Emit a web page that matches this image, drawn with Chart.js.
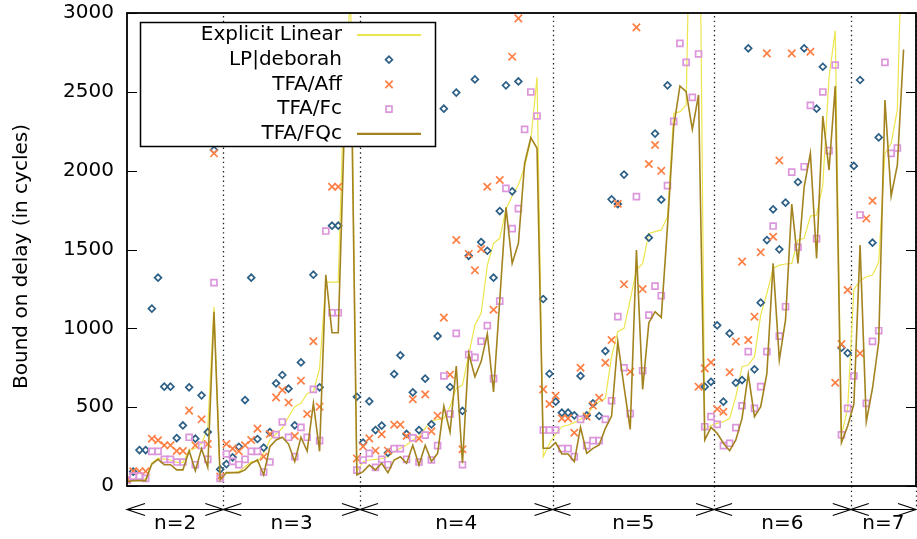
<!DOCTYPE html>
<html>
<head>
<meta charset="utf-8">
<script src="https://cdn.jsdelivr.net/npm/chart.js@4"></script>
<style>
html, body { margin: 0; padding: 0; background: #fff; }
</style>
</head>
<body>
<canvas id="delay_chart" width="917" height="539"></canvas>
<script>
// one value per benchmark instance, grouped by n (see groupBounds)
var explicitLinear = [
    30, 40, 40, 45, 145, 175, 170, 165, 150, 150, 224, 239, 270, 366, 1137, 50,
    80, 85, 91, 122, 154, 154, 207, 292, 330, 366, 439, 503, 524, 587, 598, 746, 1293, 1293, 1293, 2600, 3100, 91,
    154, 165, 169, 173, 186, 218, 239, 260, 292, 313, 366, 414, 423, 429, 503, 619, 640, 831, 1021, 1095, 1400, 1539, 1571, 1755, 1839, 1909, 2025, 2194, 2592, 186, 270,
    330, 376, 387, 402, 423, 450, 503, 535, 556, 820, 979, 1000, 1180, 1370, 1412, 1602, 1613, 1624, 1708, 2363, 2374, 2416, 4500, 4500, 355, 383,
    397, 408, 429, 567, 757, 767, 820, 1084, 1222, 1380, 1401, 1408, 1412, 1560, 1571, 1712, 1719, 1909, 2592, 2888, 323, 492,
    1247, 1302, 1327, 1338, 1420, 2110, 2173, 2385, 3900, null
];
var lpDeborah = [
    40, 91, 228, 228, 1125, 1321, 630, 630, 304, 384, 626, 300, 575, 342, 2131, 105,
    139, 182, 249, 545, 1321, 298, 243, 342, 651, 704, 617, 385, 784, null, 1340, 626, null, 1651, 1651, null, null, 566,
    275, 537, 355, 383, 211, 710, 829, 330, 594, 355, 681, 391, 951, 2393, 628, 2495, 476, 1460, 2579, 1547, 1492, 1321, 1744, 2541, 1869, 2566, null, null, null, 1186, 712,
    535, 465, 465, 448, 698, 448, 524, 444, 856, 1818, 1788, 1975, null, null, null, 1575, 2235, 1816, 2541, null, null, null, null, null, 630, 661,
    1019, 535, 968, 655, 672, 2776, 740, 1163, 1560, 1755, 1501, 1797, null, 1928, 2776, null, 2393, 2659, null, null, 877, 843,
    2030, 2575, null, 1543, 2211, null, null, null, null, null
];
var tfaAff = [
    38, 93, 93, 93, 300, 290, 258, 258, 222, 222, 478, 258, 423, 266, 2110, 60,
    266, 237, 220, 258, 292, 364, 186, 330, 562, 609, 529, 317, 668, 457, 918, 503, null, 1898, 1898, null, null, 175,
    250, 302, 224, 328, 224, 389, 389, 317, 550, 300, 581, 347, 446, 1068, 706, 1560, 233, 1472, 1368, 1503, 1898, 1118, 1941, null, 2723, 2966, null, null, null, 613, 520,
    573, 429, 429, 338, 750, 440, 510, 560, 782, 926, 1790, 1279, 725, 2909, 1249, 2042, 2163, 1999, null, null, null, null, null, 630, 746,
    784, 488, 471, 721, 917, 1423, 926, 1074, 1482, 2744, 1581, 2065, null, 2744, null, null, 2754, null, null, null, 655, 900,
    1243, null, 841, 1697, 1809, null, null, null, null, null
];
var tfaFc = [
    38, 63, 63, 48, 220, 220, 169, 169, 152, 152, 309, 135, 258, 169, 1290, 48,
    203, 156, 135, 169, 220, 220, 89, 152, 326, 406, 309, 186, 372, 309, 613, 288, 1617, 1099, 1099, null, null, 101,
    165, 207, 118, 169, 135, 237, 237, 169, 305, 152, 323, 165, 256, 698, 457, 968, 135, 833, 816, 918, 1017, 681, 1173, 1888, 1632, 1759, 2262, 2499, 2347, 355, 355,
    355, 237, 237, 186, 423, 256, 288, 288, 423, 541, 1074, 750, 459, 1835, 731, 1084, 1268, 1207, 1905, 2313, 2807, 2687, 2465, 2740, 376, 440,
    391, 256, 271, 370, 509, 852, 492, 630, 852, 1649, 951, 1137, 1991, 1514, 2025, 2414, 1569, 2499, 2127, 2670, 325, 492,
    698, 1719, 524, 917, 985, 2687, 2110, 2144, null, null
];
var tfaFQc = [
    27, 34, 34, 34, 139, 169, 135, 135, 102, 102, 224, 97, 237, 118, 1105, 38,
    85, 85, 85, 102, 144, 165, 70, 250, 292, 309, 266, 156, 309, 222, 524, 220, 1340, 972, 972, 2300, 2900, 70,
    91, 133, 102, 144, 85, 165, 186, 144, 258, 133, 258, 156, 207, 507, 342, 761, 144, 841, 693, 789, 964, 596, 1180, 1767, 1412, 1539, 2046, 2209, 2142, 239, 239,
    275, 203, 203, 154, 372, 207, 239, 260, 366, 444, 915, 630, 359, 1497, 613, 1036, 1105, 1069, 1650, 2280, 2537, 2501, 2262, 2480, 292, 372,
    334, 271, 224, 292, 429, 710, 440, 503, 714, 1412, 799, 1053, 1788, 1412, 1898, 2110, 1444, 2347, 2004, 2537, 275, 380,
    520, 1528, 408, 620, 915, 2448, 1839, 2036, 2769, null
];

var groupLabels = ['n=2', 'n=3', 'n=4', 'n=5', 'n=6', 'n=7'];
var groupBounds = [0, 15.5, 37.5, 68.5, 94.5, 116.5, 127];
var yTicks = [0, 500, 1000, 1500, 2000, 2500, 3000];
var yTitle = 'Bound on delay (in cycles)';

var FONT = 'DejaVu Sans';

function points(arr) {
    return arr.map(function (v, i) { return {x: i, y: v}; });
}

var seriesStyle = [
    {label: 'Explicit Linear', data: explicitLinear, color: '#ede54e', line: 1.2, order: 5},
    {label: 'LP|deborah', data: lpDeborah, color: '#2c5f86', style: 'rectRot', radius: 3.4, order: 4},
    {label: 'TFA/Aff', data: tfaAff, color: '#ff7f45', style: 'crossRot', radius: 5.2, order: 3},
    {label: 'TFA/Fc', data: tfaFc, color: '#dc96dc', style: 'rect', radius: 4.2, order: 2},
    {label: 'TFA/FQc', data: tfaFQc, color: '#a3831f', line: 1.6, order: 1}
];

var datasets = seriesStyle.map(function (s) {
    if (s.line) {
        return {
            label: s.label, data: points(s.data), order: s.order,
            borderColor: s.color, borderWidth: s.line,
            pointRadius: 0, tension: 0, fill: false, showLine: true
        };
    }
    return {
        label: s.label, data: points(s.data), order: s.order,
        showLine: false, pointStyle: s.style, pointRadius: s.radius,
        borderColor: s.color, backgroundColor: 'rgba(0,0,0,0)', pointBorderWidth: 1.7
    };
});

// dotted separators between the n groups (behind the marks)
var separators = {
    id: 'separators',
    beforeDatasetsDraw: function (chart) {
        var ctx = chart.ctx, x = chart.scales.x, a = chart.chartArea;
        ctx.save();
        ctx.strokeStyle = '#222';
        ctx.lineWidth = 1.3;
        ctx.setLineDash([1.4, 3.3]);
        for (var i = 1; i < groupBounds.length; i++) {
            var px = Math.round(x.getPixelForValue(groupBounds[i])) + 0.5;
            ctx.beginPath();
            ctx.moveTo(px, a.top + 3);
            ctx.lineTo(px, a.bottom + 22);
            ctx.stroke();
        }
        ctx.restore();
    }
};

// gnuplot style frame, mirrored ticks, group arrows and key box
var frame = {
    id: 'frame',
    afterDatasetsDraw: function (chart) {
        var ctx = chart.ctx, x = chart.scales.x, y = chart.scales.y, a = chart.chartArea;
        ctx.save();
        ctx.strokeStyle = '#000';
        ctx.lineWidth = 1.8;
        ctx.strokeRect(a.left, a.top, a.right - a.left, a.bottom - a.top);

        ctx.lineWidth = 1.2;
        yTicks.forEach(function (v) {
            var py = Math.round(y.getPixelForValue(v)) + 0.5;
            ctx.beginPath();
            ctx.moveTo(a.left, py); ctx.lineTo(a.left + 10, py);
            ctx.moveTo(a.right, py); ctx.lineTo(a.right - 10, py);
            ctx.stroke();
        });

        ctx.font = '20px "' + FONT + '"';
        ctx.fillStyle = '#000';
        ctx.textAlign = 'center';
        ctx.textBaseline = 'middle';

        // y title, rotated
        ctx.save();
        ctx.translate(22, (a.top + a.bottom) / 2 + 7);
        ctx.rotate(-Math.PI / 2);
        ctx.fillText(yTitle, 0, 0);
        ctx.restore();

        // arrows under the axis
        var ay = a.bottom + 23.5;
        ctx.lineWidth = 1.2;
        for (var i = 0; i < groupLabels.length; i++) {
            var x0 = x.getPixelForValue(groupBounds[i]);
            var x1 = x.getPixelForValue(groupBounds[i + 1]);
            ctx.beginPath();
            ctx.moveTo(x0, ay); ctx.lineTo(x1, ay);
            ctx.moveTo(x0 + 18, ay - 6); ctx.lineTo(x0, ay); ctx.lineTo(x0 + 18, ay + 6);
            ctx.moveTo(x1 - 18, ay - 6); ctx.lineTo(x1, ay); ctx.lineTo(x1 - 18, ay + 6);
            ctx.stroke();
            ctx.fillText(groupLabels[i], (x0 + x1) / 2, ay + 14);
        }

        // key
        var kx = 140, ky = 22, kw = 295, kh = 124;
        ctx.fillStyle = '#fff';
        ctx.fillRect(kx, ky, kw, kh);
        ctx.lineWidth = 1.5;
        ctx.strokeStyle = '#000';
        ctx.strokeRect(kx + 0.5, ky + 0.5, kw, kh);
        ctx.textAlign = 'right';
        seriesStyle.forEach(function (s, i) {
            var ry = 35 + i * 24.7;
            ctx.fillStyle = '#000';
            ctx.fillText(s.label, 342, ry);
            ctx.strokeStyle = s.color;
            if (s.line) {
                ctx.lineWidth = s.line + 0.6;
                ctx.beginPath();
                ctx.moveTo(357, ry); ctx.lineTo(421, ry);
                ctx.stroke();
            } else {
                ctx.lineWidth = 1.7;
                ctx.fillStyle = 'rgba(0,0,0,0)';
                Chart.helpers.drawPoint(ctx, {pointStyle: s.style, radius: s.radius, rotation: 0, borderWidth: 1.7}, 389, ry);
            }
        });
        ctx.restore();
    }
};

var chart = new Chart(document.getElementById('delay_chart').getContext('2d'), {
    type: 'line',
    data: {datasets: datasets},
    options: {
        responsive: false,
        animation: false,
        devicePixelRatio: 1,
        layout: {autoPadding: false, padding: {top: 13, right: 1, bottom: 53, left: 0}},
        plugins: {legend: {display: false}, tooltip: {enabled: false}},
        scales: {
            x: {type: 'linear', min: 0, max: 127, display: false},
            y: {
                min: 0, max: 3000,
                ticks: {stepSize: 500, color: '#000', padding: 13, font: {family: FONT, size: 20},
                        callback: function (v) { return String(v); }},
                grid: {display: false, drawTicks: false},
                border: {display: false},
                afterFit: function (scale) {
                    scale.width = 127;
                    scale.paddingTop = 0;
                    scale.paddingBottom = 0;
                }
            }
        }
    },
    plugins: [separators, frame]
});
</script>
</body>
</html>
